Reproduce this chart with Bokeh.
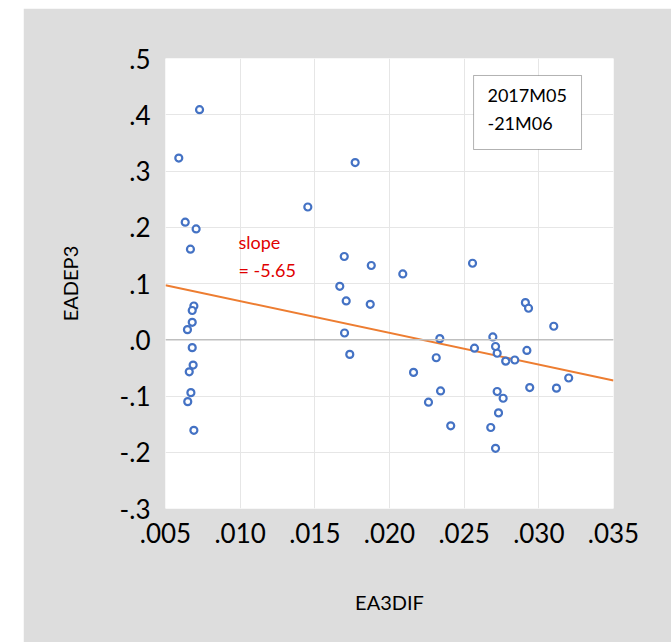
from bokeh.plotting import figure
from bokeh.models import FixedTicker, Span, Label, BoxAnnotation, Range1d
from bokeh.embed import file_html
from bokeh.resources import INLINE

# --- data ---
ea3dif = [0.00728, 0.00589, 0.00632, 0.00705, 0.00667, 0.00690, 0.00679, 0.00679,
          0.00647, 0.00679, 0.00685, 0.00659, 0.00670, 0.00649, 0.00690,
          0.01453, 0.01770, 0.01697, 0.01878, 0.02089, 0.01667, 0.01710, 0.01871,
          0.01699, 0.01734,
          0.02556, 0.02910, 0.02931, 0.03100, 0.02337, 0.02692, 0.02569, 0.02710,
          0.02721, 0.02920, 0.02313, 0.02778, 0.02839, 0.02161, 0.03200, 0.02939,
          0.03118, 0.02342, 0.02721, 0.02761, 0.02261, 0.02730, 0.02410, 0.02678,
          0.02710]
eadep3 = [0.409, 0.323, 0.209, 0.197, 0.161, 0.060, 0.052, 0.031,
          0.018, -0.014, -0.045, -0.057, -0.094, -0.110, -0.161,
          0.236, 0.315, 0.148, 0.132, 0.117, 0.095, 0.069, 0.063,
          0.012, -0.026,
          0.136, 0.066, 0.056, 0.024, 0.002, 0.005, -0.015, -0.012,
          -0.024, -0.019, -0.032, -0.038, -0.036, -0.058, -0.068, -0.085,
          -0.086, -0.091, -0.092, -0.104, -0.111, -0.130, -0.153, -0.156,
          -0.193]

fit_slope = -5.65
fit_intercept = 0.1253

x_ticks = [0.005, 0.010, 0.015, 0.020, 0.025, 0.030, 0.035]
x_tick_labels = [".005", ".010", ".015", ".020", ".025", ".030", ".035"]
y_ticks = [0.5, 0.4, 0.3, 0.2, 0.1, 0.0, -0.1, -0.2, -0.3]
y_tick_labels = [".5", ".4", ".3", ".2", ".1", ".0", "-.1", "-.2", "-.3"]

sample_text = "2017M05\n-21M06"
slope_text = ["slope", "= -5.65"]

FONT = "Lato"
GRAY = "#dddddd"

p = figure(width=648, height=634, margin=(8, 0, 0, 23),
           output_backend="svg", toolbar_location=None,
           x_range=Range1d(0.005, 0.035), y_range=Range1d(-0.3, 0.5),
           min_border_left=142, min_border_right=58, min_border_top=50,
           min_border_bottom=134)
p.border_fill_color = GRAY
p.background_fill_color = "white"
p.outline_line_color = None

for ax in (p.xaxis[0], p.yaxis[0]):
    ax.axis_line_color = None
    ax.major_tick_line_color = None
    ax.minor_tick_line_color = None
    ax.major_label_text_font = FONT
    ax.major_label_text_font_size = "26px"
    ax.major_label_text_color = "black"
    ax.axis_label_text_font = FONT
    ax.axis_label_text_font_size = "20px"
    ax.axis_label_text_font_style = "normal"
    ax.axis_label_text_color = "black"

p.xaxis.ticker = FixedTicker(ticks=x_ticks)
p.xaxis.major_label_overrides = dict(zip(x_ticks, x_tick_labels))
p.yaxis.ticker = FixedTicker(ticks=y_ticks)
p.yaxis.major_label_overrides = dict(zip(y_ticks, y_tick_labels))
p.xaxis.axis_label = "EA3DIF"
p.yaxis.axis_label = "EADEP3"
p.xaxis.major_label_standoff = 8
p.yaxis.major_label_standoff = 9
p.xaxis.axis_label_standoff = 44
p.yaxis.axis_label_standoff = 35

p.grid.grid_line_color = "#e6e6e6"
p.grid.grid_line_width = 1

p.add_layout(Span(location=0, dimension="width", line_color="#bfbfbf", line_width=1.5))

x0, x1 = p.x_range.start, p.x_range.end
p.line([x0, x1], [fit_intercept + fit_slope * x0, fit_intercept + fit_slope * x1],
       line_color="#ED7D31", line_width=2)

p.scatter(ea3dif, eadep3, size=7, marker="circle", fill_color="white",
          line_color="#4472C4", line_width=2.2)

# info box
p.add_layout(BoxAnnotation(left=0.02563, right=0.03286, top=0.4698, bottom=0.3382,
                           fill_color="white", fill_alpha=1, line_color="black",
                           line_width=1))
lines = sample_text.split("\n")
p.add_layout(Label(x=0.02656, y=0.4147, text=lines[0], text_font=FONT,
                   text_font_size="18px", text_color="black"))
p.add_layout(Label(x=0.02656, y=0.3649, text=lines[1], text_font=FONT,
                   text_font_size="18px", text_color="black"))

p.add_layout(Label(x=0.00989, y=0.1551, text=slope_text[0], text_font=FONT,
                   text_font_size="18px", text_color="#e00000"))
p.add_layout(Label(x=0.00989, y=0.1053, text=slope_text[1], text_font=FONT,
                   text_font_size="18px", text_color="#e00000"))

open("out.html", "w").write(file_html(p, INLINE))
